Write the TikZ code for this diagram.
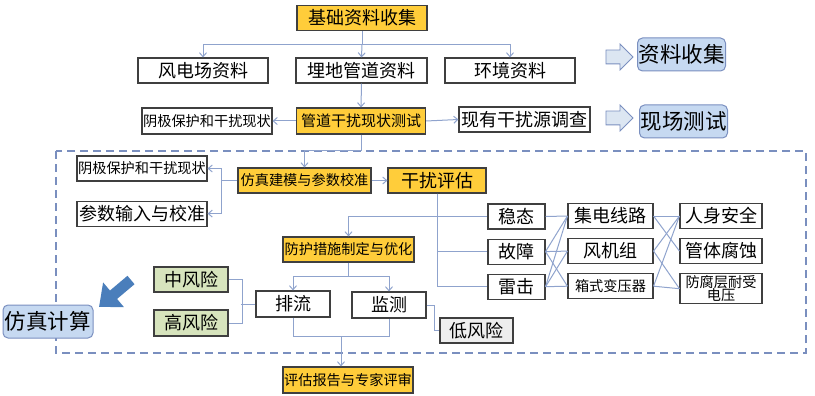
\documentclass[tikz,border=0pt]{standalone}
\usepackage{fontspec}
\newfontfamily\cjk{Noto Sans CJK SC}
\usetikzlibrary{arrows.meta,positioning,shapes.arrows}

\definecolor{keyyellow}{HTML}{FFCD3A}
\definecolor{boxline}{HTML}{3F3F3F}
\definecolor{connblue}{HTML}{8FA3CD}
\definecolor{framblue}{HTML}{7A8FBF}
\definecolor{softblue}{HTML}{C6D9F1}
\definecolor{paleblue}{HTML}{DCE6F2}
\definecolor{riskgreen}{HTML}{D7E4BD}
\definecolor{riskgray}{HTML}{EEEEEE}
\definecolor{fatblue}{HTML}{4A7EBB}

\begin{document}
\begin{tikzpicture}[
  x=1pt, y=-1pt,
  box/.style={draw=boxline, fill=white, line width=1.1pt, inner sep=0pt,
    minimum height=25pt, align=center, font=\cjk\fontsize{18}{20}\selectfont},
  sbox/.style={box, font=\cjk\fontsize{14.2}{15}\selectfont},
  key/.style={box, fill=keyyellow},
  skey/.style={sbox, fill=keyyellow},
  phase/.style={draw=framblue, fill=softblue, line width=1pt, rounded corners=5pt,
    minimum width=88pt, minimum height=33pt, inner sep=0pt,
    font=\cjk\fontsize{21.5}{23}\selectfont},
  blockarr/.style={single arrow, draw=framblue, fill=paleblue, line width=0.8pt,
    inner sep=6.5pt, minimum height=27pt, single arrow head extend=6pt},
  conn/.style={draw=connblue, line width=1pt},
  arr/.style={conn, -{Straight Barb[length=4pt,width=7pt]}},
  frame/.style={draw=framblue, line width=1.6pt, dash pattern=on 8pt off 5pt}
]
\useasboundingbox (0,0) rectangle (815,396);

% dashed simulation frame
\draw[frame] (56,151) rectangle (806,353);

% data collection
\node[key, minimum width=130pt] (base) at (362,18) {基础资料收集};
\node[box, minimum width=130pt] (wind) at (203,70.5) {风电场资料};
\node[box, minimum width=131pt] (pipe) at (361.5,70.5) {埋地管道资料};
\node[box, minimum width=130pt] (env) at (510,70.5) {环境资料};
\node[blockarr] (barr1) at (616,57) {};
\node[phase] (collect) at (681.5,54.5) {资料收集};

\draw[conn] (base.south) -- ++(0,13) coordinate (bsplit);
\draw[arr] (bsplit) -| (wind.north);
\draw[arr] (bsplit) -| (env.north);
\draw[arr] (bsplit) -- (pipe.north);

% field test
\node[sbox, minimum width=130pt, minimum height=26pt] (cp1) at (207,121) {阴极保护和干扰现状};
\node[skey, minimum width=129pt, minimum height=26pt,
  font=\cjk\fontsize{15}{16}\selectfont] (test) at (361,121) {管道干扰现状测试};
\node[box, minimum width=131pt] (survey) at (524.5,119.5) {现有干扰源调查};
\node[blockarr] (barr2) at (616,118) {};
\node[phase] (field) at (683.5,121.5) {现场测试};

\draw[arr] (pipe.south) -- (test.north);
\draw[arr] (test.west) -- (cp1.east);
\draw[arr] (test.east) -- (survey.west);

% modelling
\node[skey, minimum width=133pt] (model) at (304.5,180.5) {仿真建模与参数校准};
\node[sbox, minimum width=130pt] (cp2) at (142,168.5) {阴极保护和干扰现状};
\node[box, minimum width=130pt, below=19pt of cp2] (param) {参数输入与校准};
\node[key, minimum width=98pt] (assess) at (437,180.5) {干扰评估};

\draw[arr] (test.south) -- ++(0,16) -| (model.north);
\draw[conn] (model.west) -- ++(-16,0) coordinate (mleft);
\draw[arr] (mleft) |- (cp2.east);
\draw[arr] (mleft) |- (param.east);
\draw[arr] (model.east) -- (assess.west);

% assessment matrix
\node[box, minimum width=57pt] (steady) at (516.5,216.5) {稳态};
\node[box, minimum width=57pt, below=9pt of steady] (fault) {故障};
\node[box, minimum width=57pt, below=9pt of fault] (light) {雷击};
\node[box, minimum width=85pt] (feeder) at (610.5,216) {集电线路};
\node[box, minimum width=85pt, below=9pt of feeder] (turb) {风机组};
\node[sbox, minimum width=85pt, below=9pt of turb] (xfmr) {箱式变压器};
\node[box, minimum width=82pt] (safe) at (721,216) {人身安全};
\node[box, minimum width=82pt, below=9pt of safe] (corr) {管体腐蚀};
\node[sbox, minimum width=82pt, minimum height=30pt, below=9pt of corr,
  font=\cjk\fontsize{14.2}{13.5}\selectfont] (coat) {防腐层耐受\\电压};

\draw[conn] (assess.south) |- (steady.west);
\draw[conn] (assess.south) |- (fault.west);
\draw[conn] (assess.south) |- (light.west);
\draw[conn] (steady.east) -- (feeder.west);
\draw[conn] (fault.east) -- (feeder.west);
\draw[conn] (fault.east) -- (turb.west);
\draw[conn] (fault.east) -- (xfmr.west);
\draw[conn] (light.east) -- (feeder.west);
\draw[conn] (light.east) -- (turb.west);
\draw[conn] (light.east) -- (xfmr.west);
\draw[conn] (feeder.east) -- (safe.west);
\draw[conn] (feeder.east) -- (corr.west);
\draw[conn] (turb.east) -- (safe.west);
\draw[conn] (turb.east) -- (coat.west);
\draw[conn] (xfmr.east) -- (safe.west);
\draw[conn] (xfmr.east) -- (coat.west);

% mitigation
\node[skey, minimum width=131pt] (protect) at (348.5,249.5) {防护措施制定与优化};
\node[box, minimum width=74pt, minimum height=26pt] (drain) at (293,304) {排流};
\node[box, minimum width=74pt, minimum height=26pt] (monitor) at (389,305) {监测};
\node[box, minimum width=73pt, fill=riskgray] (low) at (476.5,330.5) {低风险};
\node[box, minimum width=74pt, fill=riskgreen] (mid) at (191,279.5) {中风险};
\node[box, minimum width=74pt, minimum height=26pt, fill=riskgreen] (high) at (191,323) {高风险};
\node[skey, minimum width=130pt, minimum height=26pt] (report) at (348,380) {评估报告与专家评审};

\draw[arr] (assess.south) -- ++(0,23) -| (protect.north);
\draw[conn] (protect.south) -- ++(0,14) coordinate (psplit);
\draw[arr] (psplit) -| (drain.north);
\draw[arr] (psplit) -| (monitor.north);
\draw[conn] (drain.south) -- ++(0,19) -| (monitor.south);
\coordinate (merge) at (341,336);
\draw[arr] (merge) -- (merge |- report.north);
\draw[conn] (monitor.east) -- ++(8,0) |- (low.west);
\draw[conn] (mid.east) -- ++(14,0) |- (high.east);
\draw[conn] (drain.west) -- ++(-14,0);

% simulation tag
\node[phase, minimum width=90pt] (sim) at (48,321.5) {仿真计算};
\coordinate (ftail) at (131,280);
\coordinate (fhead) at (99,307);
\draw[fatblue, line width=11pt, -{Triangle[length=19pt,width=31pt]}] (ftail) -- (fhead);
\end{tikzpicture}
\end{document}
